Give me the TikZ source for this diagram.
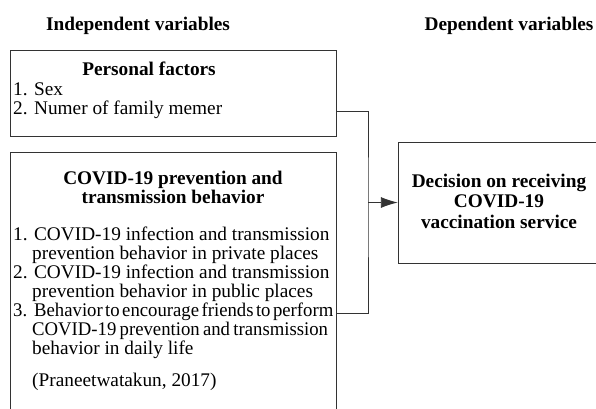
\documentclass[tikz,border=0pt]{standalone}
\usepackage{fontspec}
\usepackage{graphicx}
\setmainfont{Liberation Serif}
\usetikzlibrary{arrows.meta}
\tikzset{
  box/.style={draw=black!80, line width=0.9pt, inner sep=0pt},
  conn/.style={draw=black!80, line width=0.9pt},
  txt/.style={inner sep=0pt, font=\fontsize{19.3}{19}\selectfont},
  ltxt/.style={txt, anchor=base west},
  ctxt/.style={txt, anchor=base, font=\fontsize{19.3}{19}\selectfont\bfseries},
}
\newcommand{\tightline}[2]{\scalebox{0.97}[1]{\hbox to #1{\spaceskip=1pt plus 1fil\relax #2}}}
\begin{document}
\begin{tikzpicture}[x=1pt,y=-1pt]
\useasboundingbox (0,0) rectangle (596,408);
\clip (0,0) rectangle (596,408);
% headers
\node[ctxt] (hind) at (138,30) {Independent variables};
\node[ctxt] (hdep) at (509,30) {Dependent variables};
% boxes
\draw[box] (10,50) rectangle (336,136);
\node[inner sep=0pt, minimum width=326pt, minimum height=86pt] (pf) at (173,93) {};
\draw[box] (10,152) rectangle (336,420);
\node[inner sep=0pt, minimum width=326pt, minimum height=268pt] (cv) at (173,286) {};
\draw[box] (398,142) rectangle (610,263);
\node[inner sep=0pt, minimum width=212pt, minimum height=121pt] (dec) at (504,202.5) {};
% personal factors text
\node[ctxt] (pft) at (149,75) {Personal factors};
\node[ltxt] (pf1) at (13,95) {1. Sex};
\node[ltxt] (pf2) at (13,114) {2. Numer of family memer};
% covid text
\node[ctxt] (cvt1) at (173,184) {COVID-19 prevention and};
\node[ctxt] (cvt2) at (173,203) {transmission behavior};
\node[ltxt] (i1a) at (13,240) {1. COVID-19 infection and transmission};
\node[ltxt] (i1b) at (32,259) {prevention behavior in private places};
\node[ltxt] (i2a) at (13,278) {2. COVID-19 infection and transmission};
\node[ltxt] (i2b) at (32,297) {prevention behavior in public places};
\node[ltxt] (i3a) at (13,316) {\tightline{330pt}{3. Behavior to encourage friends to perform}};
\node[ltxt] (i3b) at (32,335) {\tightline{305pt}{COVID-19 prevention and transmission}};
\node[ltxt] (i3c) at (32,354) {behavior in daily life};
\node[ltxt] (cite) at (32,386) {(Praneetwatakun, 2017)};
% decision text
\node[ctxt] (d1) at (499,187) {Decision on receiving};
\node[ctxt] (d2) at (499,207) {COVID-19};
\node[ctxt] (d3) at (499,228) {vaccination service};
% connectors
\coordinate (a) at (336,111);
\coordinate (b) at (336,313);
\coordinate (j) at (368,202.5);
\draw[conn] (a) -| (j) |- (b);
\draw[conn, -{Latex[length=17pt,width=11pt]}] (j) -- (dec.west);
\end{tikzpicture}
\end{document}
